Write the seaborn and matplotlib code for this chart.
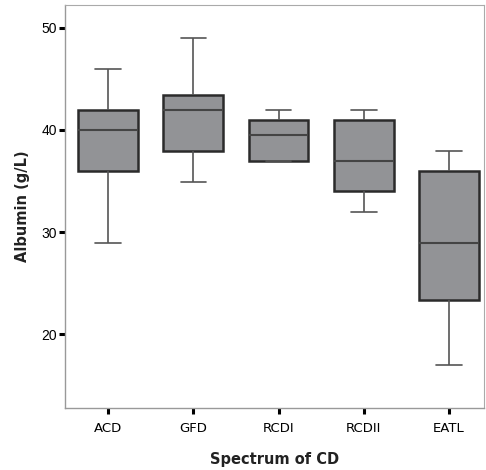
import matplotlib
matplotlib.use("Agg")
import matplotlib.pyplot as plt
import seaborn as sns
import pandas as pd
import numpy as np

categories = ["ACD", "GFD", "RCDI", "RCDII", "EATL"]
# five-number summaries: min, Q1, median, Q3, max
acd = [28.9, 36.0, 40.0, 42.0, 46.0]
gfd = [34.9, 37.9, 42.0, 43.4, 49.0]
rcdi = [37.0, 37.0, 39.5, 41.0, 42.0]
rcdii = [32.0, 34.0, 37.0, 41.0, 42.0]
eatl = [17.0, 23.3, 28.9, 36.0, 37.9]
yticks = [20, 30, 40, 50]

series = [acd, gfd, rcdi, rcdii, eatl]
rows = []
for cat, vals in zip(categories, series):
    for v in vals:
        rows.append({"Spectrum of CD": cat, "Albumin (g/L)": v})
df = pd.DataFrame(rows)

sns.set_style("white")
fig = plt.figure(figsize=(4.86, 4.70), dpi=100)
ax = fig.add_axes([65/486, 1-408/470, (484-65)/486, (408-5)/470])

sns.boxplot(data=df, x="Spectrum of CD", y="Albumin (g/L)", order=categories,
            color="#929396", saturation=1, width=0.7, whis=1.5, linewidth=1.2,
            linecolor="#2b2b2b", ax=ax,
            whiskerprops=dict(color="#555555", linewidth=1.2),
            capprops=dict(color="#555555", linewidth=1.2),
            medianprops=dict(color="#444444", linewidth=1.5),
            boxprops=dict(edgecolor="#2b2b2b", linewidth=1.8))

# narrow the whisker caps
for line in ax.lines:
    xd = np.asarray(line.get_xdata(), dtype=float)
    yd = np.asarray(line.get_ydata(), dtype=float)
    if xd.size == 2 and np.isclose(yd[0], yd[1]):
        w = abs(xd[1] - xd[0])
        if 0.3 < w < 0.4:
            c = (xd[0] + xd[1]) / 2
            line.set_data([c - 0.15, c + 0.15], yd)

ax.set_xlim(-0.505, 4.41)
ax.set_ylim(12.75, 52.25)
ax.set_yticks(yticks)
ax.set_yticklabels([str(t) for t in yticks], fontsize=10, family="Liberation Sans")
ax.set_xticks(range(len(categories)))
ax.set_xticklabels(categories, fontsize=9.5, family="DejaVu Sans")
ax.tick_params(axis="both", direction="out", length=4, width=2.2, color="black",
               labelcolor="black", bottom=True, left=True, pad=2)
ax.tick_params(axis="x", pad=6)

for s in ["top", "right"]:
    ax.spines[s].set_color("#aaaaaa")
    ax.spines[s].set_linewidth(0.8)
for s in ["left", "bottom"]:
    ax.spines[s].set_color("#999999")
    ax.spines[s].set_linewidth(1.0)

ax.set_xlabel("Spectrum of CD", fontsize=10.5, fontweight="bold", labelpad=12, color="#222222")
ax.set_ylabel("Albumin (g/L)", fontsize=10.5, fontweight="bold", labelpad=8, color="#222222")

fig.savefig("out.png", dpi=100)
